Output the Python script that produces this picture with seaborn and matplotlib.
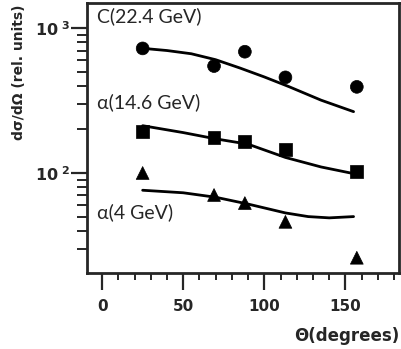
import matplotlib
matplotlib.use("Agg")
import matplotlib.pyplot as plt
import seaborn as sns
import pandas as pd
import numpy as np
from matplotlib.ticker import FixedLocator, FixedFormatter, LogLocator, NullFormatter, MultipleLocator

# --- data ---
theta_pts = [25, 69, 88, 113, 157]
c_vals = [724, 547, 687, 457, 393]
a146_vals = [193, 176, 164, 146, 102]
a4_vals = [100, 70.5, 62, 46, 26]

c_line_theta = [25, 40, 55, 70, 85, 100, 115, 135, 155]
c_line_vals = [725, 700, 665, 605, 530, 460, 395, 318, 265]
a146_line_theta = [25, 50, 70, 90, 113, 135, 155]
a146_line_vals = [212, 190, 172, 158, 128, 110, 99]
a4_line_theta = [25, 50, 70, 90, 113, 127, 140, 155]
a4_line_vals = [76, 73, 68, 61, 53, 50, 49, 50]

series_labels = ["C(22.4 GeV)", "α(14.6 GeV)", "α(4 GeV)"]
x_ticks = [0, 50, 100, 150]
y_ticks = [100, 1000]
y_tick_labels = [r"$\mathbf{10}^{\ \mathbf{2}}$", r"$\mathbf{10}^{\ \mathbf{3}}$"]

pts = pd.DataFrame({
    "theta": theta_pts * 3,
    "val": c_vals + a146_vals + a4_vals,
    "series": [series_labels[0]] * 5 + [series_labels[1]] * 5 + [series_labels[2]] * 5,
})
lines = pd.DataFrame({
    "theta": c_line_theta + a146_line_theta + a4_line_theta,
    "val": c_line_vals + a146_line_vals + a4_line_vals,
    "series": [series_labels[0]] * len(c_line_theta)
              + [series_labels[1]] * len(a146_line_theta)
              + [series_labels[2]] * len(a4_line_theta),
})

sns.set_style("ticks")
plt.rcParams["font.family"] = ["DejaVu Sans"]
plt.rcParams["mathtext.fontset"] = "custom"
plt.rcParams["mathtext.bf"] = "DejaVu Sans:bold"
plt.rcParams["mathtext.rm"] = "DejaVu Sans"

fig = plt.figure(figsize=(4.02, 3.49), dpi=100)
ax = fig.add_axes([87 / 402, 1 - 273 / 349, (399 - 87) / 402, (273 - 3) / 349])

palette = {s: "black" for s in series_labels}
sns.lineplot(data=lines, x="theta", y="val", hue="series", palette=palette,
             linewidth=2.0, legend=False, ax=ax, sort=True, estimator=None)
sns.scatterplot(data=pts, x="theta", y="val", hue="series", style="series",
                markers={series_labels[0]: "o", series_labels[1]: "s", series_labels[2]: "^"},
                palette=palette, s=85, edgecolor="black", linewidth=0.5,
                legend=False, ax=ax, zorder=3)

ax.set_yscale("log")
ax.set_xlim(-9.3, 183)
ax.set_ylim(20.4, 1490)

ax.xaxis.set_major_locator(FixedLocator(x_ticks))
ax.xaxis.set_minor_locator(MultipleLocator(10))
ax.yaxis.set_major_locator(FixedLocator(y_ticks))
ax.yaxis.set_major_formatter(FixedFormatter(y_tick_labels))
ax.yaxis.set_minor_locator(LogLocator(base=10, subs=np.arange(2, 10)))
ax.yaxis.set_minor_formatter(NullFormatter())

for sp in ax.spines.values():
    sp.set_linewidth(2.0)
    sp.set_visible(True)

ax.tick_params(axis="both", which="major", direction="out", width=1.6)
ax.tick_params(axis="y", which="major", length=11.5, pad=1, labelsize=11.5)
ax.tick_params(axis="x", which="major", length=12, pad=7, labelsize=11)
ax.tick_params(axis="y", which="minor", length=7, width=1.4)
ax.tick_params(axis="x", which="minor", length=5, width=1.4)
for lab in ax.get_xticklabels():
    lab.set_fontweight("bold")

ax.set_xlabel("Θ(degrees)", fontsize=12, fontweight="bold")
ax.xaxis.set_label_coords(1.0, -0.2)
ax.xaxis.label.set_horizontalalignment("right")
ax.set_ylabel("dσ/dΩ (rel. units)", fontsize=10, fontweight="bold")
ax.yaxis.set_label_coords(-0.195, 0.745)

text_font = ["Lato", "DejaVu Sans"]
ax.text(0.032, 0.95, series_labels[0], transform=ax.transAxes, fontsize=14,
        family=text_font, va="center", ha="left")
ax.text(0.032, 0.633, series_labels[1], transform=ax.transAxes, fontsize=14,
        family=text_font, va="center", ha="left")
ax.text(0.032, 0.226, series_labels[2], transform=ax.transAxes, fontsize=14,
        family=text_font, va="center", ha="left")

fig.savefig("out.png", dpi=100)
